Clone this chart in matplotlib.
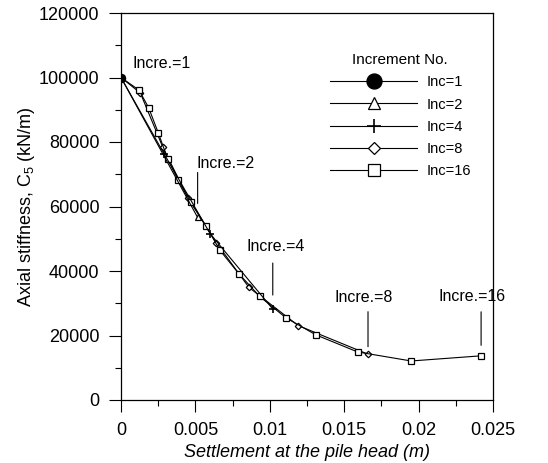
import matplotlib
matplotlib.use("Agg")
import matplotlib.pyplot as plt
from matplotlib.ticker import MultipleLocator, FixedLocator

plt.rcParams['font.family'] = ['Liberation Sans', 'DejaVu Sans']
plt.rcParams['mathtext.fontset'] = 'custom'
plt.rcParams['mathtext.rm'] = 'Liberation Sans'
plt.rcParams['mathtext.it'] = 'Liberation Sans:italic'

# ---- data ----
inc1_x = [0.0]
inc1_y = [100000]

inc2_x = [0.0, 0.00515]
inc2_y = [100000, 56600]

inc4_x = [0.0, 0.0029, 0.0060, 0.0102]
inc4_y = [100000, 76300, 51500, 28200]

inc8_x = [0.0, 0.0013, 0.0028, 0.0045, 0.0064, 0.0086, 0.0119, 0.0166]
inc8_y = [100000, 95200, 78500, 62700, 48800, 34900, 23100, 14200]

inc16_x = [0.0, 0.00121, 0.00186, 0.0025, 0.00314, 0.00385, 0.00468, 0.00569,
           0.00665, 0.00795, 0.00932, 0.01108, 0.0131, 0.0159, 0.0195, 0.0242]
inc16_y = [100000, 96100, 90600, 82900, 74700, 68100, 61400, 54100,
           46400, 39000, 32100, 25500, 20200, 14900, 12100, 13700]

series_labels = ["Inc=1", "Inc=2", "Inc=4", "Inc=8", "Inc=16"]
annot_labels = ["Incre.=1", "Incre.=2", "Incre.=4", "Incre.=8", "Incre.=16"]

x_ticks = [0, 0.005, 0.01, 0.015, 0.02, 0.025]
x_tick_labels = ["0", "0.005", "0.01", "0.015", "0.02", "0.025"]
y_ticks = [0, 20000, 40000, 60000, 80000, 100000, 120000]
y_tick_labels = ["0", "20000", "40000", "60000", "80000", "100000", "120000"]

# ---- figure ----
W, H = 548, 463
fig = plt.figure(figsize=(W / 100, H / 100), dpi=100)
ax = fig.add_axes([121 / W, 1 - 400 / H, (493 - 121) / W, (400 - 13) / H])

lw = 0.8
mew = 0.9
ax.plot(inc1_x, inc1_y, '-', color='black', lw=lw, marker='o', ms=5.8,
        mfc='black', mec='black', label=series_labels[0], zorder=5)
ax.plot(inc2_x, inc2_y, '-', color='black', lw=lw, marker='^', ms=4.7,
        mfc='white', mec='black', mew=mew, label=series_labels[1], zorder=4)
ax.plot(inc4_x, inc4_y, '-', color='black', lw=lw, marker='+', ms=5.5,
        mec='black', mew=1.2, label=series_labels[2], zorder=4)
ax.plot(inc8_x, inc8_y, '-', color='black', lw=lw, marker='D', ms=3.3,
        mfc='white', mec='black', mew=mew, label=series_labels[3], zorder=3)
ax.plot(inc16_x, inc16_y, '-', color='black', lw=lw, marker='s', ms=4.7,
        mfc='white', mec='black', mew=mew, label=series_labels[4], zorder=3)

ax.set_xlim(0, 0.025)
ax.set_ylim(0, 120000)
ax.xaxis.set_major_locator(FixedLocator(x_ticks))
ax.set_xticklabels(x_tick_labels)
ax.xaxis.set_minor_locator(MultipleLocator(0.0025))
ax.yaxis.set_major_locator(FixedLocator(y_ticks))
ax.set_yticklabels(y_tick_labels)
ax.yaxis.set_minor_locator(MultipleLocator(10000))
ax.tick_params(which='major', direction='out', length=8.5, width=0.8,
               labelsize=13, pad=7)
ax.tick_params(which='minor', direction='out', length=4, width=0.8)
ax.tick_params(top=False, right=False, which='both')
for sp in ax.spines.values():
    sp.set_linewidth(0.9)

ax.set_xlabel("Settlement at the pile head (m)", fontsize=13, style='italic',
              labelpad=4)
ax.set_ylabel("Axial stiffness, C$_5$ (kN/m)", fontsize=13, labelpad=1)

# ---- annotations
px = 0.72  # points per pixel
ends = [(inc1_x[-1], inc1_y[-1]), (inc2_x[-1], inc2_y[-1]), (inc4_x[-1], inc4_y[-1]),
        (inc8_x[-1], inc8_y[-1]), (inc16_x[-1], inc16_y[-1])]
text_off = [(12, 9), (-1.5, 49), (-26, 58), (-34, 52.5), (-43, 55)]
line_off = [None, (45, 14), (46, 14), (42.5, 7.5), (44, 10.5)]
for lab, (ex, ey), (tdx, tdy), lo in zip(annot_labels, ends, text_off, line_off):
    ax.annotate(lab, xy=(ex, ey), xytext=(tdx * px, tdy * px),
                textcoords='offset points', ha='left', va='baseline',
                fontsize=11.5)
    if lo is not None:
        ax.annotate('', xy=(ex, ey), xytext=(0, lo[0] * px),
                    textcoords='offset points',
                    arrowprops=dict(arrowstyle='-', color='black', lw=0.8,
                                    shrinkA=0, shrinkB=lo[1] * px))

leg = ax.legend(loc='upper left',
                bbox_to_anchor=((329 - 121) / 372 - 0.025, (400 - 43) / 387),
                frameon=False, fontsize=10.5, title="Increment No.",
                title_fontsize=11, handlelength=6.0, handletextpad=0.6,
                labelspacing=0.56, markerscale=1.85, borderpad=0.2)

fig.savefig("out.png", dpi=100)
